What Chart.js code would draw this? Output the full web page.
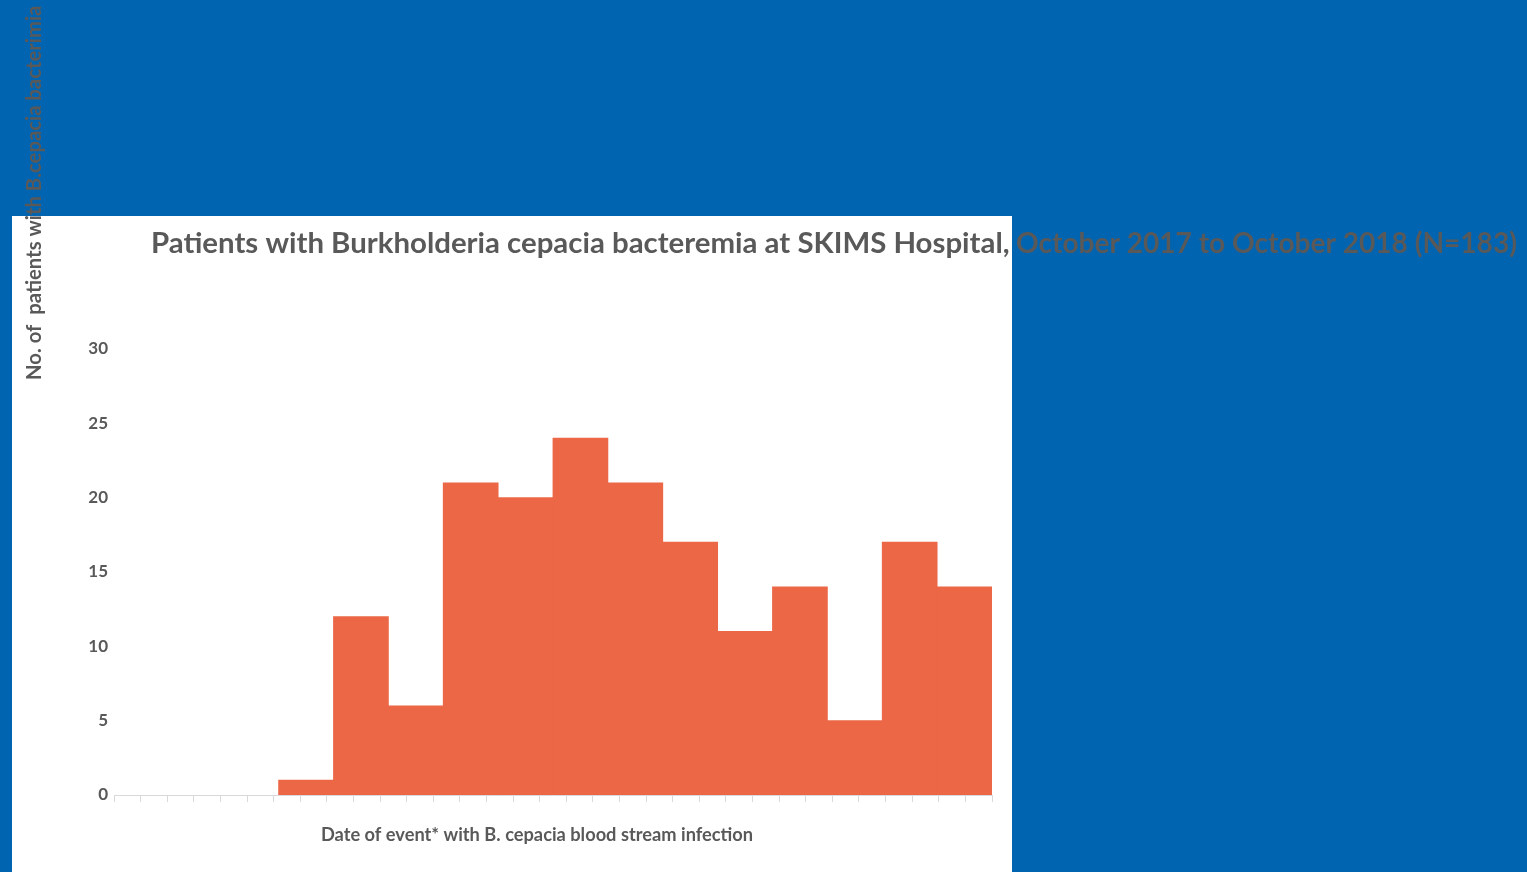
<!DOCTYPE html>
<html>
<head>
<meta charset="utf-8">
<script src="https://cdn.jsdelivr.net/npm/chart.js@4/dist/chart.umd.min.js"></script>
<style>
  html, body { margin: 0; padding: 0; background: #0064B1; }
  #wrap { position: relative; width: 1527px; height: 872px; overflow: hidden; background: #0064B1; }
  #panel { position: absolute; left: 12px; top: 216px; width: 1000px; height: 656px; background: #ffffff; }
  #holder { position: absolute; left: 0; top: 0; width: 1527px; height: 872px; }
</style>
</head>
<body>
<div id="wrap">
  <div id="panel"></div>
  <div id="holder"><canvas id="c"></canvas></div>
</div>
<script>
// Monthly categories (Jul 2017 – Oct 2018)
const categories = ['Jul 2017','Aug 2017','Sep 2017','Oct 2017','Nov 2017','Dec 2017',
  'Jan 2018','Feb 2018','Mar 2018','Apr 2018','May 2018','Jun 2018','Jul 2018','Aug 2018','Sep 2018','Oct 2018'];
const patients = [0, 0, 0, 1, 12, 6, 21, 20, 24, 21, 17, 11, 14, 5, 17, 14];
const yTickMin = 0;
const yTickMax = 30;
const yTickStep = 5;
const halfPeriods = 32; // minor tick marks along the date axis

const chartTitleA = 'Patients with Burkholderia cepacia bacteremia at SKIMS Hospital,';
const chartTitleB = 'October 2017 to October 2018 (N=183)';
const yAxisTitle = 'No. of  patients with B.cepacia bacterimia';
const xAxisTitle = 'Date of event* with B. cepacia blood stream infection';

const textColor = '#595959';

function fitFont(ctx, text, targetWidth, baseSize) {
  ctx.font = 'bold ' + baseSize + 'px Lato';
  const w = ctx.measureText(text).width;
  const size = baseSize * targetWidth / w;
  ctx.font = 'bold ' + size.toFixed(2) + 'px Lato';
}

const textPlugin = {
  id: 'texts',
  afterDraw(chart) {
    const ctx = chart.ctx;
    ctx.save();
    ctx.fillStyle = textColor;
    ctx.textBaseline = 'alphabetic';
    ctx.textAlign = 'left';
    // main title (two runs)
    fitFont(ctx, chartTitleA, 859, 29);
    ctx.fillText(chartTitleA, 151, 253);
    fitFont(ctx, chartTitleB, 501, 29);
    ctx.fillText(chartTitleB, 1016, 253);
    // x axis title
    ctx.font = 'bold 18.25px Lato';
    ctx.textAlign = 'center';
    ctx.fillText(xAxisTitle, 537, 841);
    // y axis title (rotated)
    ctx.translate(41, 380);
    ctx.rotate(-Math.PI / 2);
    ctx.textAlign = 'left';
    ctx.font = 'bold 20.3px Lato';
    ctx.fillText(yAxisTitle, 0, 0);
    ctx.restore();
  }
};

new Chart(document.getElementById('c'), {
  type: 'bar',
  data: {
    labels: categories,
    datasets: [{
      label: 'Patients',
      data: patients,
      backgroundColor: '#EC6746',
      borderWidth: 0,
      inflateAmount: (c) => (c.raw ? 0.4 : 0),
      barPercentage: 1.0,
      categoryPercentage: 1.0,
      xAxisID: 'x',
      yAxisID: 'y'
    }]
  },
  options: {
    responsive: true,
    maintainAspectRatio: false,
    animation: false,
    layout: { padding: { left: 60, right: 535, top: 349, bottom: 70 } },
    plugins: {
      legend: { display: false },
      title: { display: false },
      tooltip: { enabled: false }
    },
    scales: {
      x: {
        type: 'category',
        display: false,
        offset: true
      },
      x2: {
        type: 'linear',
        position: 'bottom',
        min: 0,
        max: halfPeriods,
        ticks: { display: false, stepSize: 1 },
        grid: { display: true, drawOnChartArea: false, drawTicks: true, tickLength: 7, color: '#D9D9D9', lineWidth: 1 },
        border: { display: true, color: '#D9D9D9', width: 1 }
      },
      y: {
        position: 'left',
        min: yTickMin,
        max: yTickMax,
        ticks: {
          stepSize: yTickStep,
          color: textColor,
          padding: 6,
          font: { family: 'Lato', weight: 'bold', size: 17 }
        },
        grid: { display: false, drawTicks: false },
        border: { display: false },
        afterFit(scale) { scale.width = 54; }
      }
    }
  },
  plugins: [textPlugin]
});
</script>
</body>
</html>
